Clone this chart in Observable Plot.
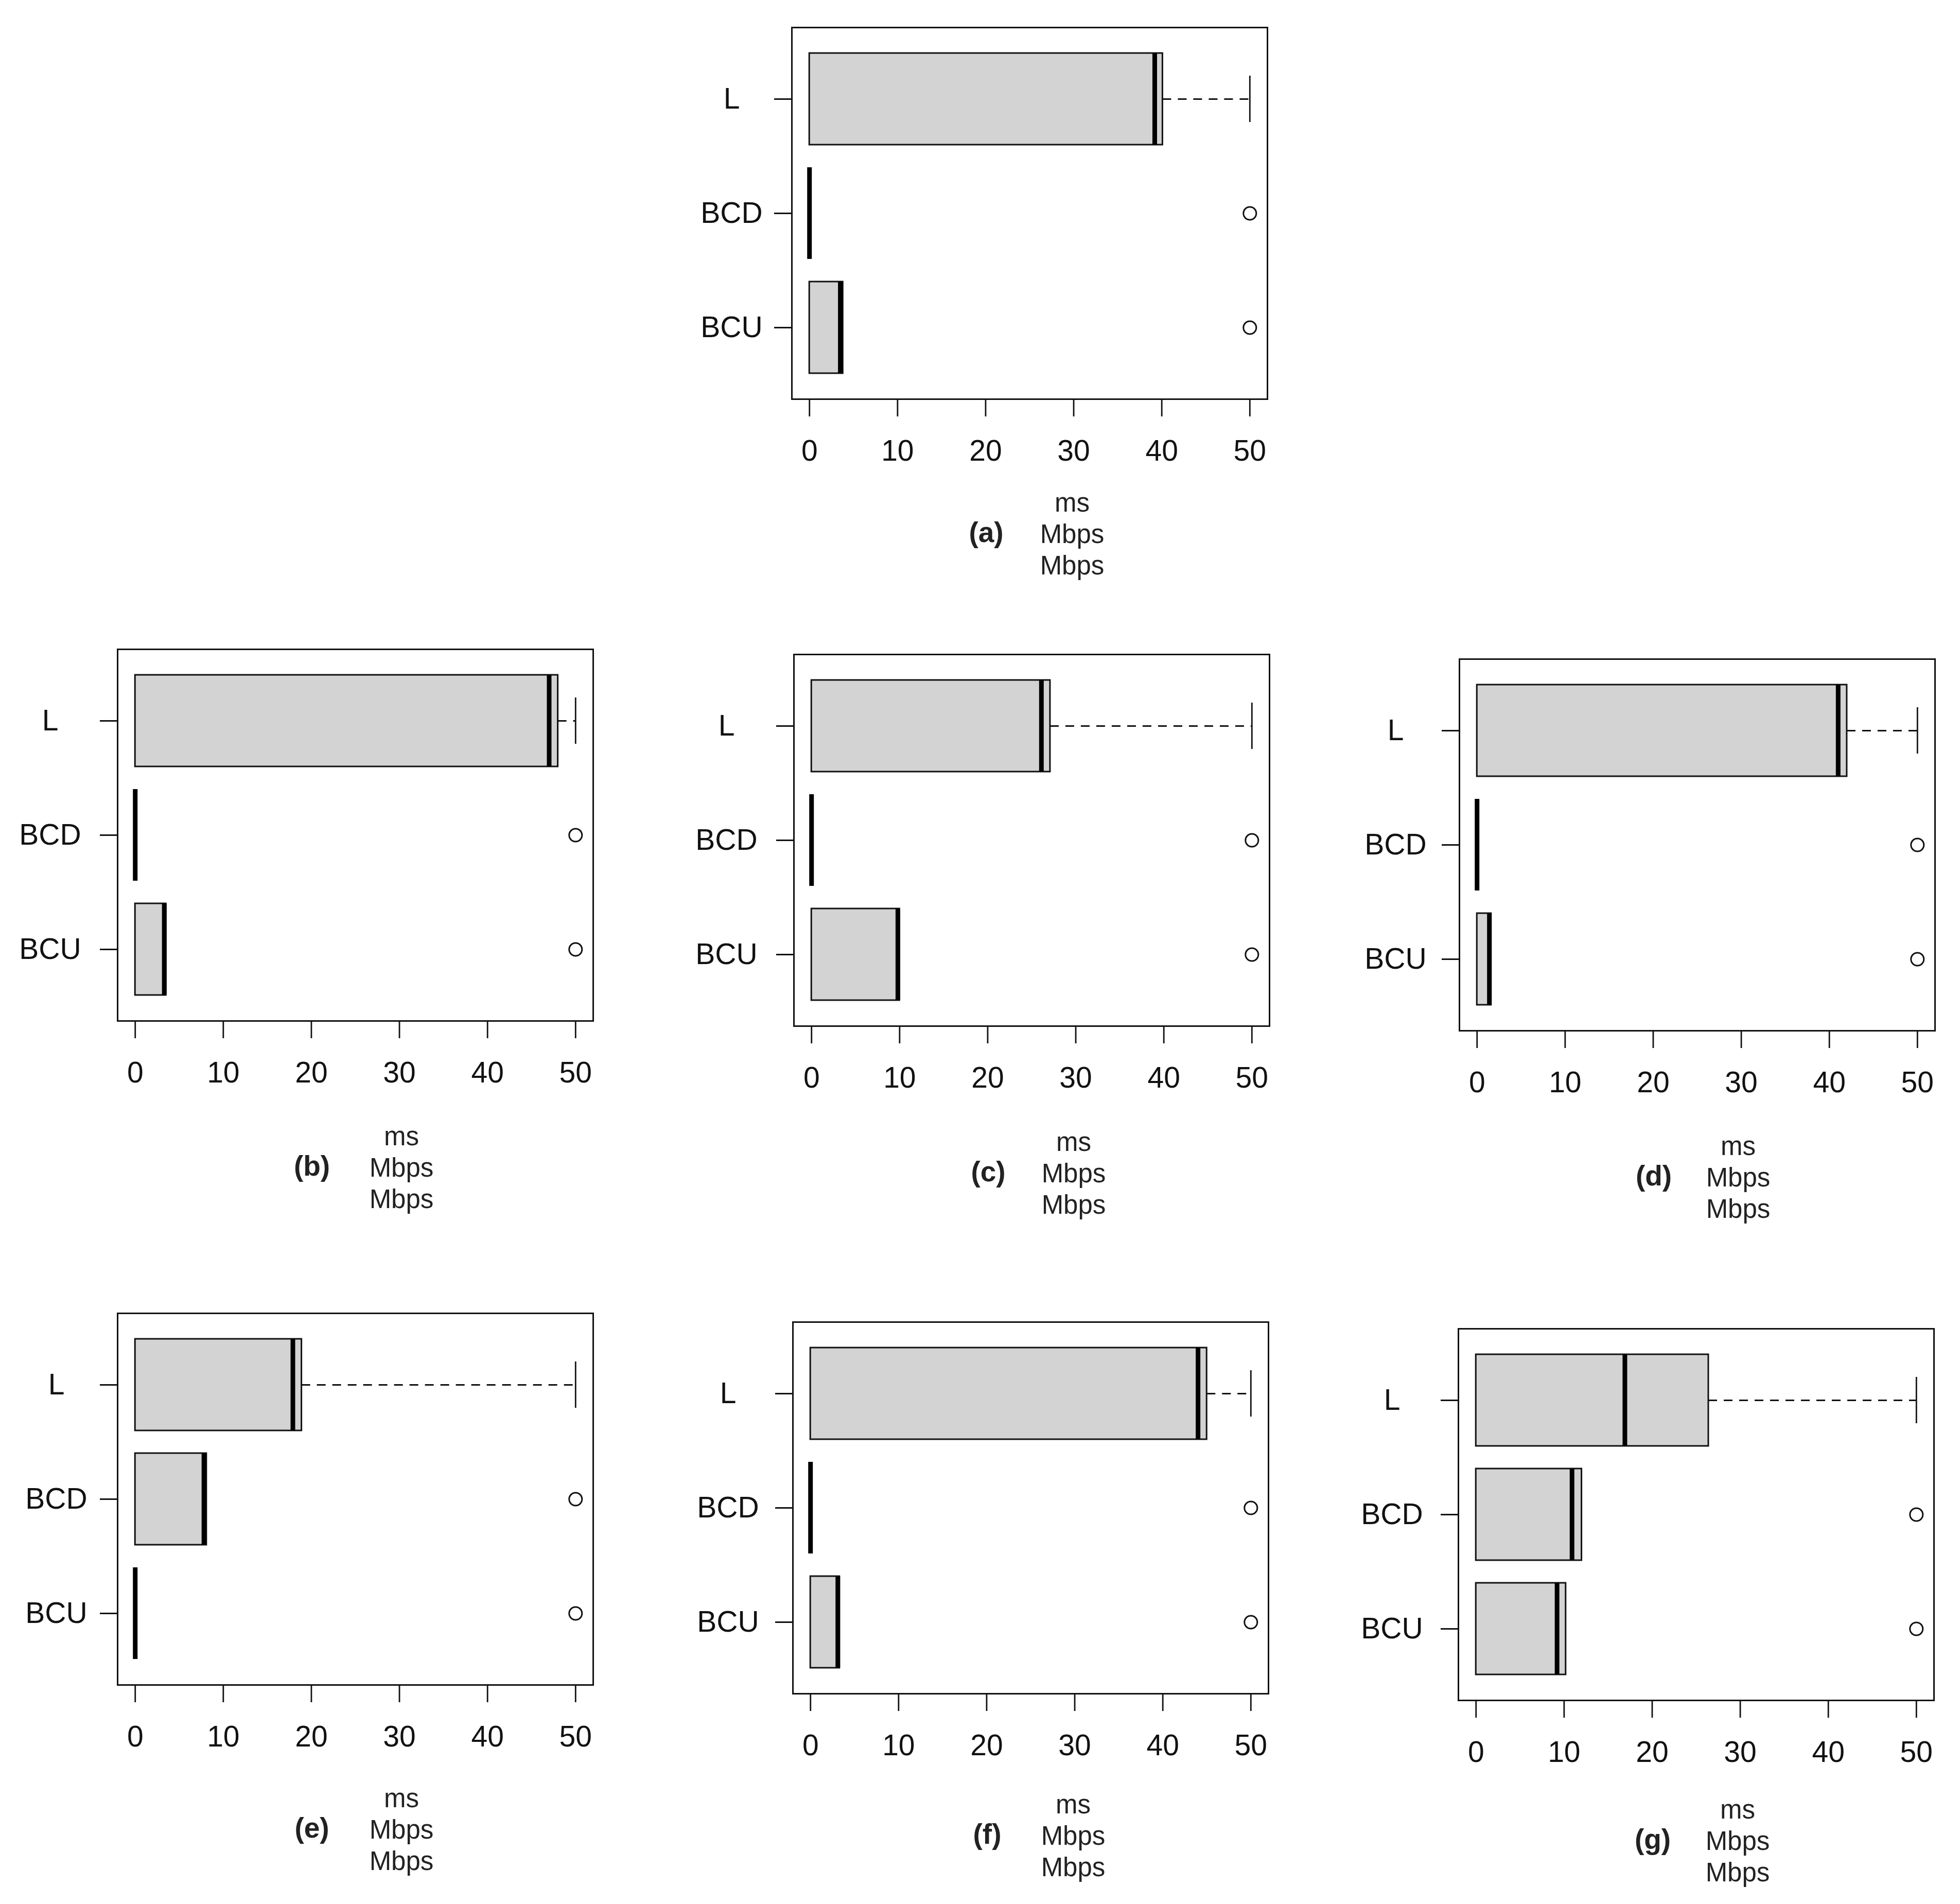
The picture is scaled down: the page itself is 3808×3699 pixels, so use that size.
<!DOCTYPE html>
<html>
<head>
<meta charset="utf-8">
<script src="https://cdn.jsdelivr.net/npm/d3@7"></script>
<script src="https://cdn.jsdelivr.net/npm/@observablehq/plot@0.6"></script>
<style>
  html, body { margin: 0; padding: 0; background: #fff; }
  #page { position: relative; width: 3808px; height: 3699px; background: #fff; overflow: hidden; }
  .panel { position: absolute; }
  .cap { position: absolute; transform: translate(-50%, -50%); font-family: "Liberation Sans", Arial, sans-serif; font-size: 51px; line-height: 1; color: #222; white-space: nowrap; }
  .cap.lab { font-weight: bold; font-size: 55px; }
</style>
</head>
<body>
<div id="page"></div>
<script>
// ---- data ----
const panelLabels = ["(a)", "(b)", "(c)", "(d)", "(e)", "(f)", "(g)"];
const categories = ["L", "BCD", "BCU"];
const xTicks = [0, 10, 20, 30, 40, 50];
const unitLines = ["ms", "Mbps", "Mbps"];
// per panel, per category [L, BCD, BCU]
const lowerQuartile = [
  [0, 0, 0], [0, 0, 0], [0, 0, 0], [0, 0, 0], [0, 0, 0], [0, 0, 0], [0, 0, 0]
];
const median = [
  [39.2, 0, 3.5], [47.0, 0, 3.3], [26.1, 0, 9.8], [41.0, 0, 1.4],
  [17.9, 7.8, 0], [44.0, 0, 3.1], [16.9, 10.9, 9.2]
];
const upperQuartile = [
  [40.1, 0, 3.8], [48.0, 0, 3.5], [27.1, 0, 10.0], [42.0, 0, 1.6],
  [18.9, 8.1, 0], [45.0, 0, 3.3], [26.4, 12.0, 10.2]
];
const upperWhisker = [
  [50, 0, 3.8], [50, 0, 3.5], [50, 0, 10.0], [50, 0, 1.6],
  [50, 8.1, 0], [50, 0, 3.3], [50, 12.0, 10.2]
];
const outlierValues = [
  [null, 50, 50], [null, 50, 50], [null, 50, 50], [null, 50, 50],
  [null, 50, 50], [null, 50, 50], [null, 50, 50]
];

// ---- layout (pixels) ----
const FW = 924, FH = 722;            // plot frame size
const ML = 240, MR = 20, MT = 20, MB = 150;
const frames = [                      // frame left/top on page, caption offsets, y-label offset
  {left: 1538, top: 53,   cap: 201, capX: 545, yl: 117},
  {left: 228,  top: 1261, cap: 224, capX: 552, yl: 131},
  {left: 1542, top: 1271, cap: 225, capX: 544, yl: 131},
  {left: 2835, top: 1280, cap: 224, capX: 542, yl: 124},
  {left: 228,  top: 2551, cap: 220, capX: 552, yl: 119},
  {left: 1540, top: 2568, cap: 215, capX: 545, yl: 126},
  {left: 2833, top: 2581, cap: 212, capX: 543, yl: 129}
];

const page = document.getElementById("page");
const INK = "#111";

function panelPlot(p, f) {
  const rows = categories.map((c, j) => ({
    cat: c,
    q1: lowerQuartile[p][j],
    med: median[p][j],
    q3: upperQuartile[p][j],
    hi: upperWhisker[p][j],
    out: outlierValues[p][j]
  }));
  const whisk = rows.filter(d => d.hi > d.q3);
  return Plot.plot({
    width: ML + FW + MR,
    height: MT + FH + MB,
    marginLeft: ML, marginRight: MR, marginTop: MT, marginBottom: MB,
    style: {background: "transparent", fontFamily: "'Liberation Sans', Arial, sans-serif", fontSize: "57px", color: INK, overflow: "visible"},
    x: {domain: [-2, 52], label: null},
    y: {type: "band", domain: categories, paddingInner: 0.2, paddingOuter: 0.22, label: null},
    marks: [
      Plot.ruleY(whisk, {y: "cat", x1: "q3", x2: "hi", stroke: INK, strokeWidth: 2.8, strokeDasharray: "17,13"}),
      Plot.tickX(whisk, {x: "hi", y: "cat", insetTop: 44, insetBottom: 44, stroke: INK, strokeWidth: 2.8}),
      Plot.barX(rows, {y: "cat", x1: "q1", x2: "q3", fill: "#d3d3d3", stroke: INK, strokeWidth: 3}),
      Plot.tickX(rows, {x: "med", y: "cat", stroke: "#000", strokeWidth: 9}),
      Plot.dot(rows.filter(d => d.out != null), {x: "out", y: "cat", r: 12.5, stroke: INK, strokeWidth: 3, fill: "none"}),
      Plot.frame({stroke: INK, strokeWidth: 3}),
      Plot.axisX({ticks: xTicks, tickSize: 34, tickPadding: 45, fontSize: 57, stroke: INK, strokeWidth: 2.8, label: null, tickFormat: d3.format("d")}),
      Plot.axisY({tickSize: 34, tickPadding: f.yl - 34, textAnchor: "middle", fontSize: 57, stroke: INK, strokeWidth: 2.8, label: null})
    ]
  });
}

frames.forEach((f, p) => {
  const wrap = document.createElement("div");
  wrap.className = "panel";
  wrap.style.left = (f.left - ML) + "px";
  wrap.style.top = (f.top - MT) + "px";
  wrap.appendChild(panelPlot(p, f));
  page.appendChild(wrap);

  const bottom = f.top + FH;
  unitLines.forEach((t, i) => {
    const d = document.createElement("div");
    d.className = "cap";
    d.textContent = t;
    d.style.left = (f.left + f.capX) + "px";
    d.style.top = (bottom + f.cap + i * 61) + "px";
    page.appendChild(d);
  });
  const lab = document.createElement("div");
  lab.className = "cap lab";
  lab.textContent = panelLabels[p];
  lab.style.left = (f.left + 378) + "px";
  lab.style.top = (bottom + f.cap + 58) + "px";
  page.appendChild(lab);
});
</script>
</body>
</html>
